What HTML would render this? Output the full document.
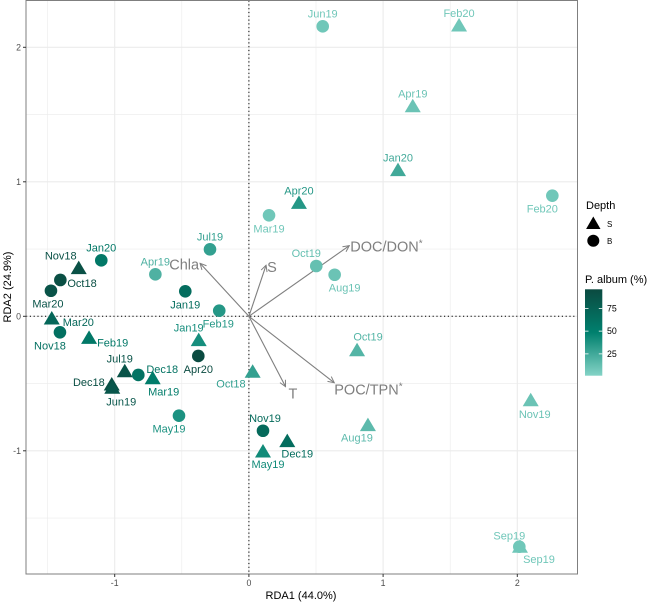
<!DOCTYPE html>
<html><head><meta charset="utf-8"><style>
html,body{margin:0;padding:0;background:#fff;}
svg{display:block;font-family:"Liberation Sans",sans-serif;}
</style></head><body>
<svg id="chart" width="649" height="602" viewBox="0 0 649 602" xmlns="http://www.w3.org/2000/svg">
<defs>
<linearGradient id="cbar" x1="0" y1="1" x2="0" y2="0">
<stop offset="0" stop-color="#84d3c6"/>
<stop offset="0.5" stop-color="#00806e"/>
<stop offset="1" stop-color="#0b4a40"/>
</linearGradient>
<marker id="arr" viewBox="0 0 10 10" refX="9" refY="5" markerWidth="7" markerHeight="7" orient="auto-start-reverse">
<path d="M1,1 L9,5 L1,9" fill="none" stroke="#7f7f7f" stroke-width="1.3"/>
</marker>
</defs>
<g id="grid"></g>
<g id="arrows"></g>
<g id="pts"></g>
<rect x="26" y="0.5" width="551.5" height="573.5" fill="none" stroke="#7f7f7f" stroke-width="1"/>
<g id="axes"></g>
<text x="301" y="599" font-size="11" text-anchor="middle" fill="#000">RDA1 (44.0%)</text>
<text transform="translate(11,287) rotate(-90)" font-size="11" text-anchor="middle" fill="#000">RDA2 (24.9%)</text>
<g>
<text x="586" y="209" font-size="11">Depth</text>
<polygon points="593.3,216.5 600.5,229 586.1,229" fill="#000"/>
<text x="607" y="227" font-size="8">S</text>
<circle cx="593.3" cy="240.7" r="6" fill="#000"/>
<text x="607" y="244" font-size="8">B</text>
</g>
<g>
<text x="585" y="283" font-size="11">P. album (%)</text>
<rect x="585" y="289.3" width="17.3" height="86.4" fill="url(#cbar)"/>
<g id="cbticks"></g>
</g>
</svg>
<script>
// ---- data ----
const labels = ["Jun19","Feb20","Apr19","Jan20","Apr20","Mar19","Feb20","Oct19","Aug19","Jul19","Apr19","Jan20","Nov18","Oct18","Mar20","Jan19","Feb19","Mar20","Nov18","Feb19","Jan19","Apr20","Jul19","Dec18","Mar19","Dec18","Jun19","Oct18","May19","Nov19","May19","Dec19","Oct19","Aug19","Nov19","Sep19","Sep19"];
const depth = ["B","S","S","S","S","B","B","B","B","B","B","B","S","B","B","B","B","S","B","S","S","B","S","B","S","S","S","S","B","B","S","S","S","S","S","S","B"];
const rda1 = [0.55,1.566,1.221,1.111,0.373,0.150,2.261,0.502,0.639,-0.290,-0.697,-1.100,-1.268,-1.405,-1.475,-0.474,-0.221,-1.469,-1.408,-1.191,-0.374,-0.377,-0.925,-0.824,-0.717,-1.022,-1.018,0.028,-0.521,0.105,0.105,0.286,0.806,0.887,2.100,2.020,2.015];
const rda2 = [2.156,2.158,1.558,1.083,0.840,0.751,0.897,0.374,0.309,0.498,0.312,0.416,0.354,0.270,0.190,0.186,0.042,-0.020,-0.119,-0.164,-0.181,-0.295,-0.412,-0.436,-0.464,-0.511,-0.535,-0.416,-0.739,-0.851,-1.009,-0.932,-0.256,-0.813,-0.628,-1.717,-1.713];
const palbum = [8,8,10,25,35,8,8,12,10,30,20,55,90,92,88,65,35,70,62,55,40,95,88,60,52,92,85,30,38,68,42,65,18,15,10,8,8];
const envNames = ["Chla","S","DOC/DON","T","POC/TPN"];
const envStar = [false,false,true,false,true];
const envX = [-0.364,0.128,0.748,0.273,0.636];
const envY = [0.394,0.380,0.525,-0.523,-0.494];
const xTicks = [-1,0,1,2];
const yTicks = [-1,0,1,2];
const cbTicks = [25,50,75];
// ---- layout (label placement offsets, px) ----
const labOff = [[0,-9],[0,-9],[0,-9],[0,-9],[0,-9],[0,17],[-10,17],[-10,-9],[10,17],[0,-9],[0,-9],[0,-9],[-18,-9],["r",7,7],[-3,17],[0,17],[-1,17],["r",11,7],[-10,17],["r",8,8],[-10,-9],[0,17],[-5,-9],["r",8,-2],[11,17],["l",-7,1],[9,17],["l",-7,15],[-10,17],[2,-9],[5,16],[10,16],[11,-10],[-11,16],[4,17],[19,16],[-10,-7]];

const NS="http://www.w3.org/2000/svg";
const X0=248.9, XS=134.2, Y0=316.3, YS=134.5;
const sx=v=>X0+v*XS, sy=v=>Y0-v*YS;
const L=26,R=577.5,T=0.5,B=574;
function mk(tag,attrs,parent){const e=document.createElementNS(NS,tag);for(const k in attrs)e.setAttribute(k,attrs[k]);parent.appendChild(e);return e;}
function colorFor(p){
  const stops=[[1,[132,211,198]],[48,[0,128,110]],[96,[11,74,64]]];
  let a=stops[0],b=stops[1];
  if(p>stops[1][0]){a=stops[1];b=stops[2];}
  let t=Math.max(0,Math.min(1,(p-a[0])/(b[0]-a[0])));
  const c=a[1].map((v,i)=>Math.round(v+(b[1][i]-v)*t));
  return `rgb(${c[0]},${c[1]},${c[2]})`;
}
const grid=document.getElementById('grid');
mk('rect',{x:L,y:T,width:R-L,height:B-T,fill:'#fff'},grid);
for(let v=-1.5;v<=2.5;v+=0.5){const px=sx(v);if(px<L||px>R)continue;
  const l=mk('line',{x1:px,x2:px,y1:T,y2:B,stroke:'#ebebeb','stroke-width':Number.isInteger(v)?1.1:0.6},grid);
  
  }
for(let v=-2;v<=2.5;v+=0.5){const py=sy(v);if(py<T||py>B)continue;
  const l=mk('line',{x1:L,x2:R,y1:py,y2:py,stroke:'#ebebeb','stroke-width':Number.isInteger(v)?1.1:0.6},grid);
  
  }
let z=mk('line',{x1:sx(0),x2:sx(0),y1:T,y2:B,stroke:'#000','stroke-width':1,'stroke-dasharray':'1.2,2.6'},grid);


z=mk('line',{x1:L,x2:R,y1:sy(0),y2:sy(0),stroke:'#000','stroke-width':1,'stroke-dasharray':'1.2,2.6'},grid);



const arrows=document.getElementById('arrows');
const envLab=[["end",-1,6],["start",1,7],["start",1,6],["start",3,12],["start",0,12]];
envNames.forEach((n,i)=>{
  const ln=mk('line',{x1:sx(0),y1:sy(0),x2:sx(envX[i]),y2:sy(envY[i]),stroke:'#7f7f7f','stroke-width':1.1,'marker-end':'url(#arr)'},arrows);
  
  
  const o=envLab[i];
  const t=mk('text',{x:sx(envX[i])+o[1],y:sy(envY[i])+o[2],'text-anchor':o[0],'font-size':14.5,fill:'#7f7f7f'},arrows);
  t.appendChild(document.createTextNode(n));
  if(envStar[i]){const s=mk('tspan',{dy:-5,'font-size':10},t);s.textContent='*';}
  
  
});

const pts=document.getElementById('pts');
labels.forEach((lb,i)=>{
  const cx=sx(rda1[i]), cy=sy(rda2[i]), col=colorFor(palbum[i]);
  let m;
  if(depth[i]==="S"){m=mk('polygon',{points:`${cx},${cy-8} ${cx+8},${cy+5.5} ${cx-8},${cy+5.5}`,fill:col},pts);}
  else{m=mk('circle',{cx:cx,cy:cy,r:6.3,fill:col},pts);}
  
  
  const o=labOff[i]; let anchor='middle',dx,dy;
  if(o[0]==='r'){anchor='start';dx=o[1];dy=o[2];}else if(o[0]==='l'){anchor='end';dx=o[1];dy=o[2];}else{dx=o[0];dy=o[1];}
  const t=mk('text',{x:cx+dx,y:cy+dy,'text-anchor':anchor,'font-size':11,fill:col},pts);
  t.textContent=lb;
  
  
});

const axes=document.getElementById('axes');
xTicks.forEach(v=>{
  const tk=mk('line',{x1:sx(v),x2:sx(v),y1:B,y2:B+3,stroke:'#333','stroke-width':1},axes);
  
  
  const t=mk('text',{x:sx(v),y:B+12,'text-anchor':'middle','font-size':8.8,fill:'#4d4d4d'},axes);
  t.textContent=v;
  
  
});
yTicks.forEach(v=>{
  const tk=mk('line',{x1:L-3,x2:L,y1:sy(v),y2:sy(v),stroke:'#333','stroke-width':1},axes);
  
  
  const t=mk('text',{x:L-5,y:sy(v)+3,'text-anchor':'end','font-size':8.8,fill:'#4d4d4d'},axes);
  t.textContent=v;
  
  
});
const cb=document.getElementById('cbticks');
const cbY=p=>375.7-(p-1)*(86.4/95);
cbTicks.forEach(v=>{
  const y=cbY(v);
  mk('line',{x1:585,x2:588.5,y1:y,y2:y,stroke:'#fff','stroke-width':0.8},cb);
  mk('line',{x1:598.8,x2:602.3,y1:y,y2:y,stroke:'#fff','stroke-width':0.8},cb);
  const t=mk('text',{x:607,y:y+3,'font-size':8.8,fill:'#000'},cb);
  t.textContent=v;
  
  
});
</script>
</body></html>
